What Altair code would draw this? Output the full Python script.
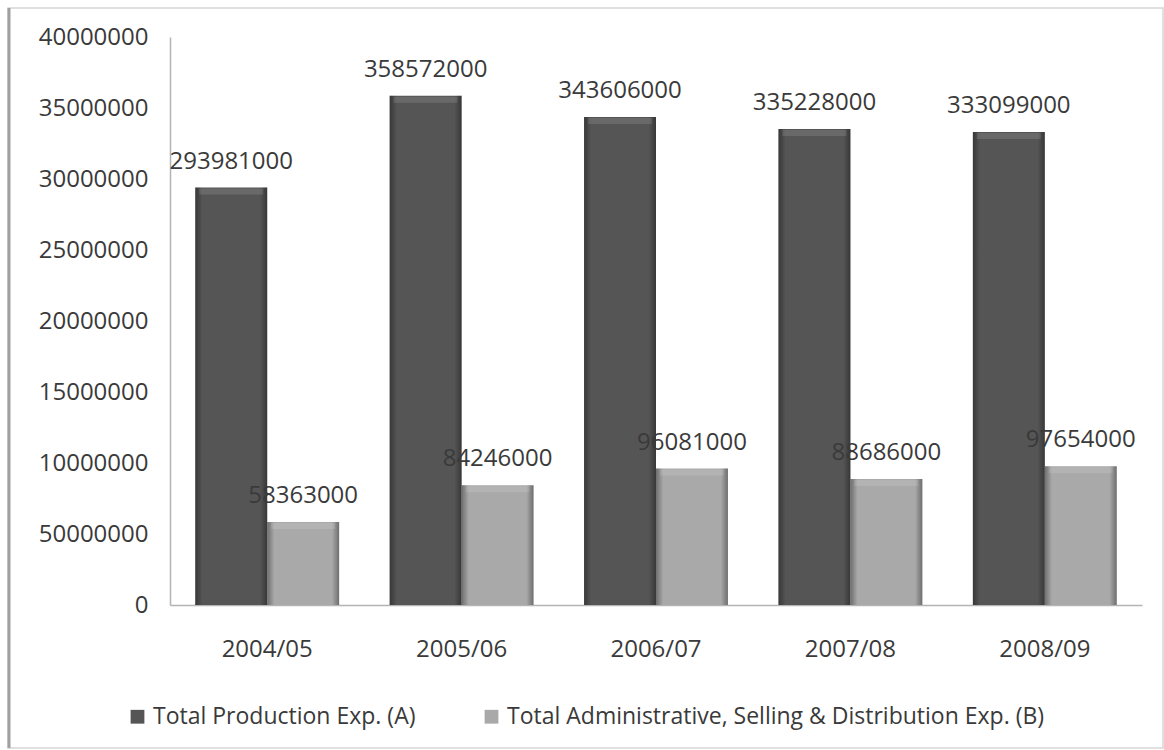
import altair as alt
import pandas as pd

# Expenditure per financial year
years = ["2004/05", "2005/06", "2006/07", "2007/08", "2008/09"]
production = [293981000, 358572000, 343606000, 335228000, 333099000]
admin = [58363000, 84246000, 96081000, 88686000, 97654000]

series_names = [
    "Total Production Exp. (A)",
    "Total Administrative, Selling & Distribution Exp. (B)",
]
series_colors = ["#555555", "#a9a9a9"]

# Value-axis ticks and the text printed beside them
y_tick_values = [0, 50000000, 100000000, 150000000, 200000000,
                 250000000, 300000000, 350000000, 400000000]
y_tick_labels = ["0", "50000000", "10000000", "15000000", "20000000",
                 "25000000", "30000000", "35000000", "40000000"]

rows = []
for i, yr in enumerate(years):
    rows.append({"year": yr, "series": series_names[0], "value": production[i]})
    rows.append({"year": yr, "series": series_names[1], "value": admin[i]})
df = pd.DataFrame(rows)

label_expr = ""
for v, t in zip(y_tick_values, y_tick_labels):
    label_expr += f"datum.value == {v} ? '{t}' : "
label_expr += "''"

FONT = "Open Sans"
TEXT = "#3a3a3a"

x_enc = alt.X(
    "year:N",
    sort=years,
    scale=alt.Scale(paddingInner=0.26, paddingOuter=0.13),
    axis=alt.Axis(
        title=None, labelAngle=0, labelFontSize=24, labelColor=TEXT,
        labelPadding=32, ticks=False, domainColor="#b4b4b4", domainWidth=1.5,
    ),
)
xo_enc = alt.XOffset(
    "series:N",
    sort=series_names,
    scale=alt.Scale(domain=series_names, paddingInner=0, paddingOuter=0),
)
y_enc = alt.Y(
    "value:Q",
    scale=alt.Scale(domain=[0, 400000000], nice=False),
    axis=alt.Axis(
        title=None, values=y_tick_values, labelExpr=label_expr, grid=False,
        ticks=False, labelFontSize=24, labelColor=TEXT, labelPadding=22,
        domainColor="#b4b4b4", domainWidth=1.5,
    ),
)

base = alt.Chart(df)

bars = base.mark_bar().encode(
    x=x_enc,
    xOffset=xo_enc,
    y=y_enc,
    color=alt.Color(
        "series:N",
        sort=series_names,
        scale=alt.Scale(domain=series_names, range=series_colors),
        legend=alt.Legend(title=None),
    ),
)

# darker side edges for a rounded, bevelled look
shade = base.mark_bar(
    fill=alt.Gradient(
        gradient="linear", x1=0, x2=1, y1=0, y2=0,
        stops=[
            alt.GradientStop(offset=0, color="rgba(0,0,0,0.35)"),
            alt.GradientStop(offset=0.1, color="rgba(0,0,0,0)"),
            alt.GradientStop(offset=0.9, color="rgba(0,0,0,0)"),
            alt.GradientStop(offset=1, color="rgba(0,0,0,0.35)"),
        ],
    )
).encode(x=x_enc, xOffset=xo_enc, y=y_enc)

# soft light strip along each bar top
cap = base.mark_tick(
    color="white", opacity=0.12, thickness=6, size=64, yOffset=4
).encode(x=x_enc, xOffset=xo_enc, y=y_enc)

labels = base.mark_text(
    dy=-26, fontSize=24, color=TEXT, baseline="middle", font=FONT
).encode(x=x_enc, xOffset=xo_enc, y=y_enc, text=alt.Text("value:Q", format="d"))

frame_df = pd.DataFrame({"k": [0]})
frame = alt.Chart(frame_df).mark_rect(
    fill="transparent", stroke="#d6d6d6", strokeWidth=1.5
).encode(
    x=alt.value(-162), x2=alt.value(993), y=alt.value(-29), y2=alt.value(711)
)
frame_left = alt.Chart(frame_df).mark_rule(color="#a0a0a0", strokeWidth=3).encode(
    x=alt.value(-161), y=alt.value(-29), y2=alt.value(711)
)

chart = (
    alt.layer(frame, frame_left, bars, shade, cap, labels)
    .properties(
        width=972,
        height=568,
        autosize=alt.AutoSizeParams(type="none"),
        padding={"left": 170, "top": 37, "right": 22, "bottom": 145},
        background="white",
    )
    .configure(font=FONT)
    .configure_view(stroke=None)
    .configure_legend(
        orient="none", legendX=-44, legendY=668, direction="horizontal",
        symbolType="square", symbolSize=190, symbolStrokeWidth=0,
        labelFontSize=23, labelColor=TEXT, labelFont=FONT,
        labelOffset=4, columnPadding=64, labelLimit=800,
    )
)

chart.save("out.html", embed_options={"renderer": "svg", "actions": False})
